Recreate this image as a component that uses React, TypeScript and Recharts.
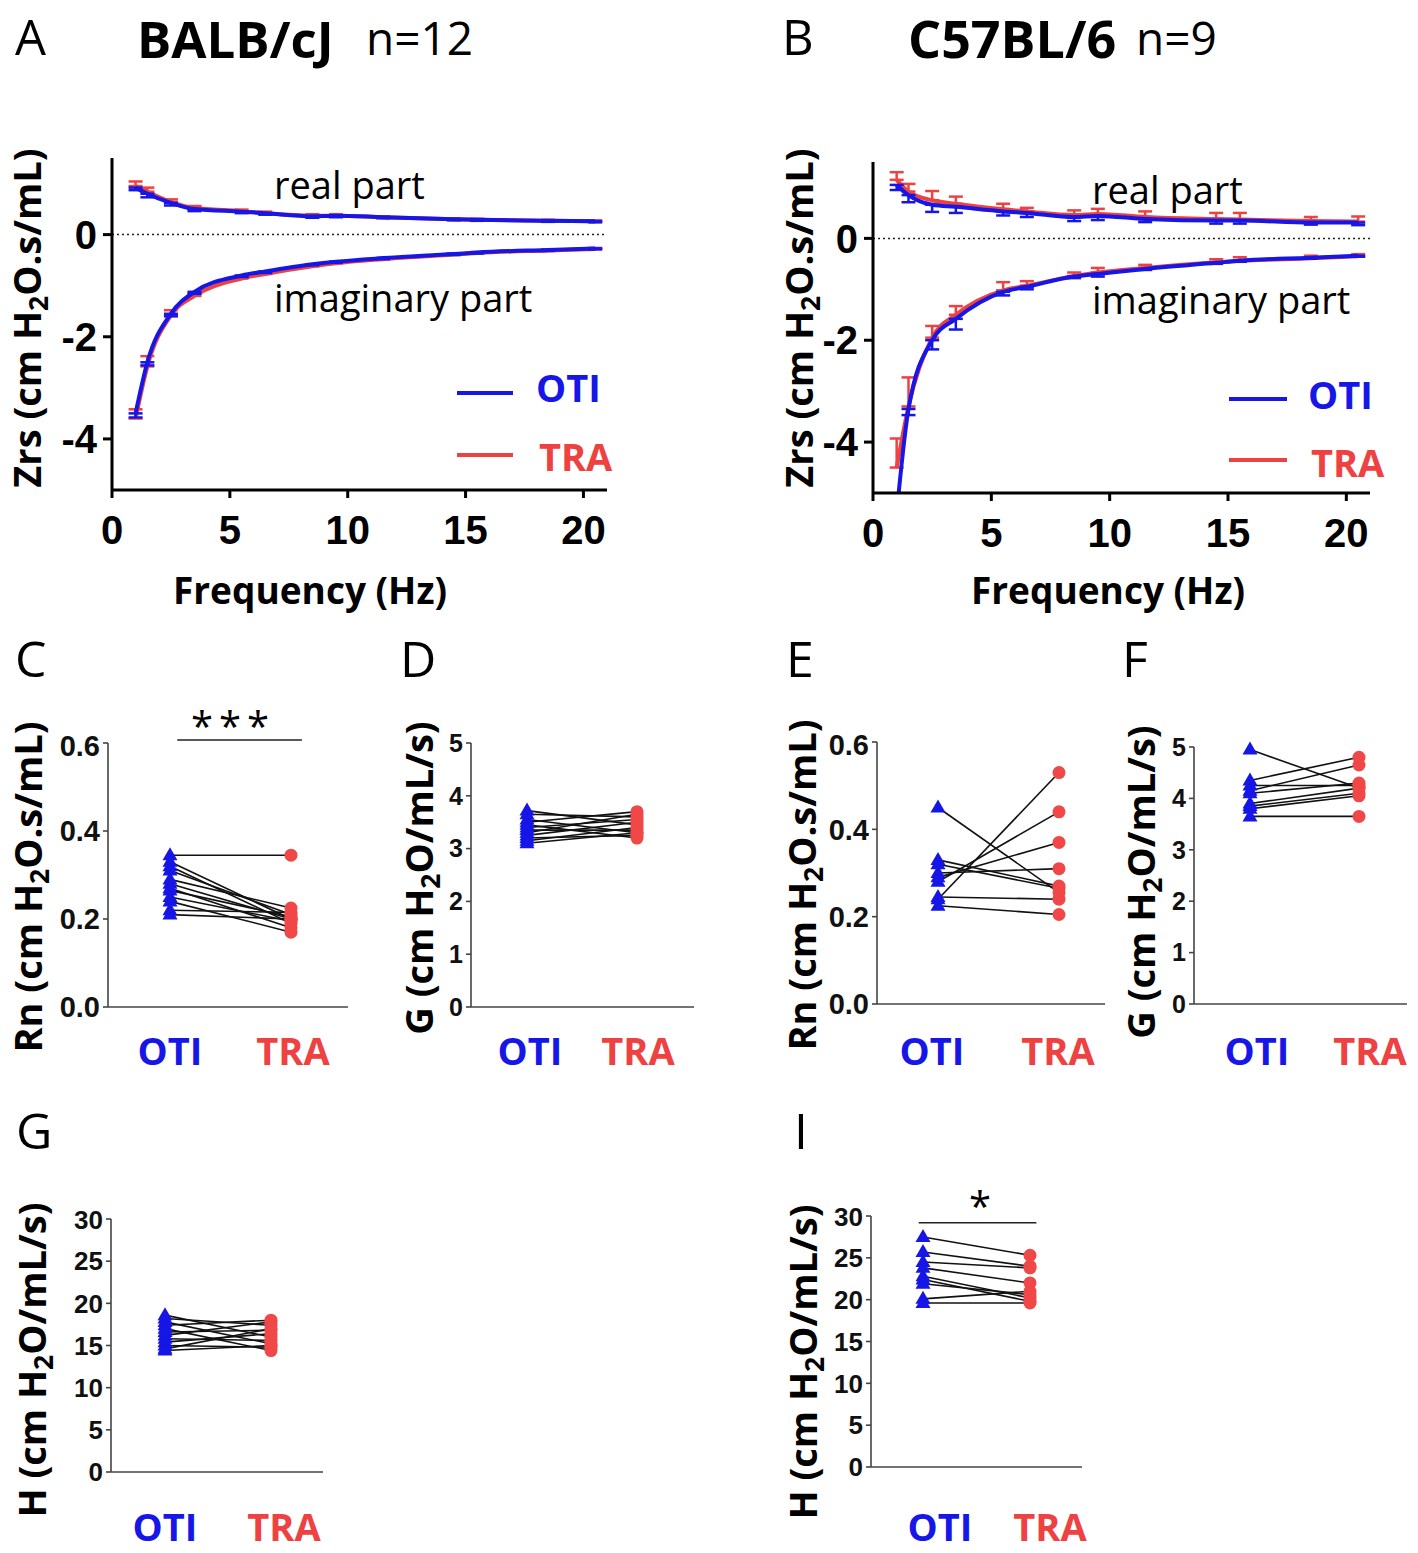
import React from 'react';
import { LineChart, Line, XAxis, YAxis, ErrorBar, ReferenceLine } from 'recharts';

const BLUE = '#1616e6';
const RED = '#ee4242';
const SANS = '"Open Sans", "Noto Sans", sans-serif';
const ARIAL = '"Liberation Sans", Arial, sans-serif';

// forced-oscillation frequencies (Hz)
const freqs = [1, 1.5, 2.5, 3.5, 5.5, 6.5, 8.5, 9.5, 11.5, 14.5, 15.5, 18.5, 20.5];

// A: BALB/cJ impedance, mean and SEM
const balbOtiRe = [0.92, 0.8, 0.62, 0.5, 0.45, 0.42, 0.36, 0.37, 0.34, 0.3, 0.29, 0.27, 0.26];
const balbOtiReSem = [0.05, 0.07, 0.05, 0.04, 0.03, 0.03, 0.03, 0.03, 0.02, 0.02, 0.02, 0.02, 0.02];
const balbTraRe = [0.95, 0.84, 0.64, 0.52, 0.46, 0.42, 0.37, 0.37, 0.34, 0.3, 0.29, 0.27, 0.26];
const balbTraReSem = [0.09, 0.08, 0.05, 0.04, 0.03, 0.03, 0.03, 0.03, 0.02, 0.02, 0.02, 0.02, 0.02];
const balbOtiIm = [-3.5, -2.5, -1.55, -1.12, -0.8, -0.72, -0.58, -0.53, -0.46, -0.38, -0.35, -0.3, -0.27];
const balbOtiImSem = [0.08, 0.06, 0.05, 0.04, 0.03, 0.03, 0.02, 0.02, 0.02, 0.02, 0.02, 0.02, 0.02];
const balbTraIm = [-3.6, -2.58, -1.58, -1.2, -0.86, -0.77, -0.62, -0.56, -0.48, -0.39, -0.36, -0.31, -0.28];
const balbTraImSem = [0.18, 0.2, 0.1, 0.05, 0.03, 0.03, 0.03, 0.02, 0.02, 0.02, 0.02, 0.02, 0.02];

// B: C57BL/6 impedance, mean and SEM
const c57OtiRe = [1.05, 0.85, 0.66, 0.62, 0.53, 0.5, 0.42, 0.44, 0.38, 0.35, 0.35, 0.31, 0.31];
const c57OtiReSem = [0.1, 0.14, 0.14, 0.12, 0.08, 0.08, 0.08, 0.08, 0.06, 0.06, 0.06, 0.04, 0.05];
const c57TraRe = [1.15, 0.92, 0.75, 0.68, 0.57, 0.53, 0.46, 0.48, 0.42, 0.38, 0.37, 0.34, 0.33];
const c57TraReSem = [0.15, 0.15, 0.18, 0.14, 0.11, 0.07, 0.09, 0.1, 0.11, 0.12, 0.13, 0.08, 0.1];
const c57OtiIm = [-5.4, -3.35, -2.0, -1.58, -1.05, -0.95, -0.75, -0.7, -0.6, -0.48, -0.44, -0.38, -0.34];
const c57OtiImSem = [0.2, 0.12, 0.18, 0.21, 0.07, 0.05, 0.03, 0.05, 0.02, 0.02, 0.02, 0.02, 0.02];
const c57TraIm = [-4.5, -3.3, -1.95, -1.5, -1.02, -0.93, -0.74, -0.67, -0.58, -0.47, -0.44, -0.39, -0.35];
const c57TraImSem = [0.57, 0.57, 0.23, 0.17, 0.16, 0.09, 0.07, 0.09, 0.06, 0.06, 0.07, 0.05, 0.04];

// paired values per mouse (OTI -> TRA)
const rnBalbOti = [0.345, 0.33, 0.32, 0.31, 0.29, 0.28, 0.27, 0.265, 0.25, 0.24, 0.22, 0.21];
const rnBalbTra = [0.345, 0.2, 0.19, 0.21, 0.225, 0.2, 0.18, 0.205, 0.195, 0.17, 0.215, 0.2];
const gBalbOti = [3.72, 3.65, 3.55, 3.5, 3.45, 3.4, 3.35, 3.3, 3.25, 3.2, 3.15, 3.1];
const gBalbTra = [3.45, 3.6, 3.3, 3.7, 3.2, 3.55, 3.35, 3.65, 3.5, 3.25, 3.4, 3.3];
const hBalbOti = [18.6, 18.2, 17.8, 17.4, 17.0, 16.6, 16.2, 15.8, 15.4, 15.0, 14.6, 14.4];
const hBalbTra = [16.0, 17.4, 15.2, 18.0, 14.4, 16.8, 17.8, 15.6, 16.4, 14.8, 17.0, 15.0];

const rnC57Oti = [0.45, 0.33, 0.32, 0.3, 0.29, 0.28, 0.24, 0.245, 0.225];
const rnC57Tra = [0.255, 0.27, 0.265, 0.31, 0.37, 0.44, 0.53, 0.24, 0.205];
const gC57Oti = [4.95, 4.35, 4.25, 4.15, 4.1, 3.9, 3.85, 3.8, 3.65];
const gC57Tra = [4.2, 4.8, 4.25, 4.65, 4.3, 4.2, 4.1, 4.05, 3.65];
const hC57Oti = [27.5, 25.7, 24.5, 23.8, 22.8, 22.4, 21.9, 20.1, 19.6];
const hC57Tra = [25.3, 24.0, 23.8, 22.0, 20.2, 19.8, 20.6, 21.0, 19.6];

const groups = ['OTI', 'TRA'];
const Y_MIN = -5;

// error bars of points below the axis are clipped away, as in the original plot
const errLow = (v, s) => (v < Y_MIN ? null : [s, 0]);
const errHigh = (v, s) => (v < Y_MIN ? null : [0, s]);

function buildZrs(oRe, oReS, tRe, tReS, oIm, oImS, tIm, tImS) {
  return freqs.map((f, i) => ({
    f,
    oRe: oRe[i], oReErr: errLow(oRe[i], oReS[i]),
    tRe: tRe[i], tReErr: errHigh(tRe[i], tReS[i]),
    oIm: oIm[i], oImErr: errLow(oIm[i], oImS[i]),
    tIm: tIm[i], tImErr: errHigh(tIm[i], tImS[i]),
  }));
}

function buildPairs(oti, tra) {
  const a: any = { x: 0 };
  const b: any = { x: 1 };
  oti.forEach((v, i) => { a['p' + i] = v; });
  tra.forEach((v, i) => { b['p' + i] = v; });
  return [a, b];
}

function Txt({ x, y, size, bold = false, color = '#000', children, center = false }) {
  return (
    <div
      style={{
        position: 'absolute', left: x, top: y, fontFamily: SANS, fontSize: size,
        fontWeight: bold ? 700 : 400, color, lineHeight: 1.3, whiteSpace: 'nowrap',
        transform: center ? 'translate(-50%, -50%)' : 'translateY(-50%)',
      }}
    >
      {children}
    </div>
  );
}

function VLabel({ x, y, children }) {
  return (
    <div
      style={{
        position: 'absolute', left: x, top: y, fontFamily: SANS, fontSize: 38, fontWeight: 700,
        lineHeight: 1.3, whiteSpace: 'nowrap', transform: 'translate(-50%, -50%) rotate(-90deg)',
      }}
    >
      {children}
    </div>
  );
}

const h2o = (
  <>
    H<sub style={{ fontSize: '0.7em', verticalAlign: '-0.25em' }}>2</sub>O
  </>
);

function ZrsPanel({ x0, y0, w, h, rows }) {
  const YW = 96, MT = 10, MR = 12, XH = 70;
  const axis = { stroke: '#000', strokeWidth: 3 };
  const tickFont = { fontSize: 40, fontWeight: 700, fill: '#000', fontFamily: ARIAL };
  const lines = [
    { key: 'tRe', err: 'tReErr', color: RED },
    { key: 'tIm', err: 'tImErr', color: RED },
    { key: 'oRe', err: 'oReErr', color: BLUE },
    { key: 'oIm', err: 'oImErr', color: BLUE },
  ];
  return (
    <div style={{ position: 'absolute', left: x0 - YW, top: y0 - MT }}>
      <LineChart width={w + YW + MR} height={h + MT + XH} data={rows} margin={{ top: MT, right: MR, bottom: 0, left: 0 }}>
        <XAxis
          type="number" dataKey="f" domain={[0, 21]} ticks={[0, 5, 10, 15, 20]} allowDataOverflow
          axisLine={axis} tickLine={axis} tickSize={8} tickMargin={18} tick={tickFont} height={XH}
        />
        <YAxis
          type="number" domain={[Y_MIN, 1.5]} ticks={[-4, -2, 0]} allowDataOverflow width={YW}
          axisLine={axis} tickLine={axis} tickSize={9} tickMargin={6} tick={tickFont}
        />
        <ReferenceLine y={0} stroke="#222" strokeWidth={1.5} strokeDasharray="2 3" />
        {lines.map((l) => (
          <Line
            key={l.key} dataKey={l.key} type="monotone" stroke={l.color} strokeWidth={4}
            dot={false} activeDot={false} isAnimationActive={false}
          >
            <ErrorBar dataKey={l.err} direction="y" width={7} stroke={l.color} strokeWidth={2.5} />
          </Line>
        ))}
      </LineChart>
    </div>
  );
}

function Marker(props) {
  const { cx, cy, payload, index } = props;
  if (cx == null || cy == null) return <g key={'m' + index} />;
  if (payload.x === 0) {
    return (
      <path
        key={'m' + index}
        d={`M${cx},${cy - 8} L${cx + 7.5},${cy + 5} L${cx - 7.5},${cy + 5} Z`}
        fill={BLUE}
      />
    );
  }
  return <circle key={'m' + index} cx={cx} cy={cy} r={6.5} fill="#f04848" />;
}

function PairedPanel({ p, oti, tra, domain, ticks, fmt, fontSize, labelDy, labelDx, sig = null }) {
  const YW = 60, MT = 14, MR = 10;
  const XH = Math.min(104, 1553 - p.y1);
  const w = p.x1 - p.x0;
  const h = p.y1 - p.y0;
  const span = p.tra - p.oti;
  const xDomain = [-(p.oti - p.x0) / span, 1 + (p.x1 - p.tra) / span];
  const rows = buildPairs(oti, tra);
  const axis = { stroke: '#444', strokeWidth: 1.6 };
  const groupTick = (t) => {
    const i = t.payload.value;
    return (
      <text
        x={t.x + labelDx[i]} y={t.y + labelDy} textAnchor="middle" dominantBaseline="central"
        fill={i === 0 ? BLUE : RED} fontFamily={SANS} fontWeight={700} fontSize={38}
      >
        {groups[i]}
      </text>
    );
  };
  return (
    <div style={{ position: 'absolute', left: p.x0 - YW, top: p.y0 - MT }}>
      <LineChart width={w + YW + MR} height={h + MT + XH} data={rows} margin={{ top: MT, right: MR, bottom: 0, left: 0 }}>
        <XAxis
          type="number" dataKey="x" domain={xDomain} ticks={[0, 1]} height={XH}
          axisLine={axis} tickLine={false} tickSize={0} tickMargin={0} tick={groupTick}
        />
        <YAxis
          type="number" domain={domain} ticks={ticks} width={YW} tickFormatter={fmt}
          axisLine={axis} tickLine={axis} tickSize={5} tickMargin={3}
          tick={{ fontSize, fontWeight: 700, fill: '#111', fontFamily: ARIAL }}
        />
        {sig && (
          <ReferenceLine
            segment={[{ x: sig.x1, y: sig.y }, { x: sig.x2, y: sig.y }]}
            stroke="#222" strokeWidth={1.5} ifOverflow="visible"
          />
        )}
        {oti.map((_, i) => (
          <Line
            key={'l' + i} dataKey={'p' + i} type="linear" stroke="#111" strokeWidth={1.6}
            dot={false} activeDot={false} isAnimationActive={false}
          />
        ))}
        {oti.map((_, i) => (
          <Line
            key={'d' + i} dataKey={'p' + i} type="linear" stroke="none"
            dot={Marker} activeDot={false} isAnimationActive={false}
          />
        ))}
      </LineChart>
    </div>
  );
}

const fmt1 = (v) => v.toFixed(1);
const fmt0 = (v) => String(v);

export default function App() {
  const balbRows = buildZrs(balbOtiRe, balbOtiReSem, balbTraRe, balbTraReSem, balbOtiIm, balbOtiImSem, balbTraIm, balbTraImSem);
  const c57Rows = buildZrs(c57OtiRe, c57OtiReSem, c57TraRe, c57TraReSem, c57OtiIm, c57OtiImSem, c57TraIm, c57TraImSem);

  return (
    <div style={{ position: 'absolute', left: 0, top: 0, width: 1418, height: 1553, background: '#fff', overflow: 'hidden' }}>
      {/* headings */}
      <Txt x={15} y={37} size={49}>A</Txt>
      <Txt x={137} y={38} size={51} bold>BALB/cJ</Txt>
      <Txt x={366} y={38} size={46}>n=12</Txt>
      <Txt x={782} y={37} size={49}>B</Txt>
      <Txt x={908} y={38} size={52} bold>C57BL/6</Txt>
      <Txt x={1136} y={38} size={46}>n=9</Txt>
      <Txt x={15} y={658} size={50}>C</Txt>
      <Txt x={400} y={658} size={50}>D</Txt>
      <Txt x={786} y={658} size={50}>E</Txt>
      <Txt x={1122} y={658} size={50}>F</Txt>
      <Txt x={16} y={1130} size={50}>G</Txt>
      <Txt x={794} y={1130} size={50}>I</Txt>

      {/* impedance spectra */}
      <ZrsPanel x0={112} y0={158} w={495} h={332} rows={balbRows} />
      <ZrsPanel x0={873} y0={162} w={497} h={331} rows={c57Rows} />

      <VLabel x={29} y={318}>Zrs (cm {h2o}.s/mL)</VLabel>
      <VLabel x={801} y={318}>Zrs (cm {h2o}.s/mL)</VLabel>
      <Txt x={310} y={590} size={37} bold center>Frequency (Hz)</Txt>
      <Txt x={1108} y={590} size={37} bold center>Frequency (Hz)</Txt>

      <Txt x={274} y={185} size={38}>real part</Txt>
      <Txt x={274} y={298} size={38}>imaginary part</Txt>
      <Txt x={1092} y={190} size={38}>real part</Txt>
      <Txt x={1092} y={300} size={38}>imaginary part</Txt>

      {/* legends */}
      <div style={{ position: 'absolute', left: 457, top: 391, width: 56, height: 4, background: BLUE }} />
      <Txt x={536} y={388} size={38} bold color={BLUE}>OTI</Txt>
      <div style={{ position: 'absolute', left: 457, top: 453, width: 56, height: 4, background: RED }} />
      <Txt x={539} y={457} size={38} bold color={RED}>TRA</Txt>
      <div style={{ position: 'absolute', left: 1229, top: 397, width: 58, height: 4, background: BLUE }} />
      <Txt x={1308} y={395} size={38} bold color={BLUE}>OTI</Txt>
      <div style={{ position: 'absolute', left: 1229, top: 458, width: 58, height: 4, background: RED }} />
      <Txt x={1311} y={463} size={38} bold color={RED}>TRA</Txt>

      {/* paired panels */}
      <PairedPanel
        p={{ x0: 108, x1: 348, y0: 743, y1: 1007, oti: 170, tra: 291 }}
        oti={rnBalbOti} tra={rnBalbTra} domain={[0, 0.6]} ticks={[0, 0.2, 0.4, 0.6]} fmt={fmt1}
        fontSize={29} labelDy={43} labelDx={[0, 2]} sig={{ x1: 0.06, x2: 1.09, y: 0.607 }}
      />
      <PairedPanel
        p={{ x0: 471, x1: 694, y0: 743, y1: 1007, oti: 527, tra: 637 }}
        oti={gBalbOti} tra={gBalbTra} domain={[0, 5]} ticks={[0, 1, 2, 3, 4, 5]} fmt={fmt0}
        fontSize={25} labelDy={43} labelDx={[3, 1]}
      />
      <PairedPanel
        p={{ x0: 877, x1: 1105, y0: 742, y1: 1004, oti: 938, tra: 1059 }}
        oti={rnC57Oti} tra={rnC57Tra} domain={[0, 0.6]} ticks={[0, 0.2, 0.4, 0.6]} fmt={fmt1}
        fontSize={29} labelDy={46} labelDx={[-6, -1]}
      />
      <PairedPanel
        p={{ x0: 1194, x1: 1407, y0: 747, y1: 1004, oti: 1250, tra: 1359 }}
        oti={gC57Oti} tra={gC57Tra} domain={[0, 5]} ticks={[0, 1, 2, 3, 4, 5]} fmt={fmt0}
        fontSize={25} labelDy={46} labelDx={[7, 11]}
      />
      <PairedPanel
        p={{ x0: 111, x1: 323, y0: 1219, y1: 1472, oti: 165, tra: 271 }}
        oti={hBalbOti} tra={hBalbTra} domain={[0, 30]} ticks={[0, 5, 10, 15, 20, 25, 30]} fmt={fmt0}
        fontSize={26} labelDy={54} labelDx={[0, 13]}
      />
      <PairedPanel
        p={{ x0: 871, x1: 1082, y0: 1216, y1: 1467, oti: 923, tra: 1030 }}
        oti={hC57Oti} tra={hC57Tra} domain={[0, 30]} ticks={[0, 5, 10, 15, 20, 25, 30]} fmt={fmt0}
        fontSize={26} labelDy={59} labelDx={[17, 20]} sig={{ x1: -0.04, x2: 1.06, y: 29.2 }}
      />

      <VLabel x={30} y={887}>Rn (cm {h2o}.s/mL)</VLabel>
      <VLabel x={421} y={878}>G (cm {h2o}/mL/s)</VLabel>
      <VLabel x={804} y={885}>Rn (cm {h2o}.s/mL)</VLabel>
      <VLabel x={1143} y={882}>G (cm {h2o}/mL/s)</VLabel>
      <VLabel x={34} y={1360}>H (cm {h2o}/mL/s)</VLabel>
      <VLabel x={805} y={1362}>H (cm {h2o}/mL/s)</VLabel>

      {/* significance marks */}
      <Txt x={233} y={726} size={40} center>
        <span style={{ letterSpacing: 6 }}>***</span>
      </Txt>
      <Txt x={980} y={1206} size={40} center>*</Txt>
    </div>
  );
}
